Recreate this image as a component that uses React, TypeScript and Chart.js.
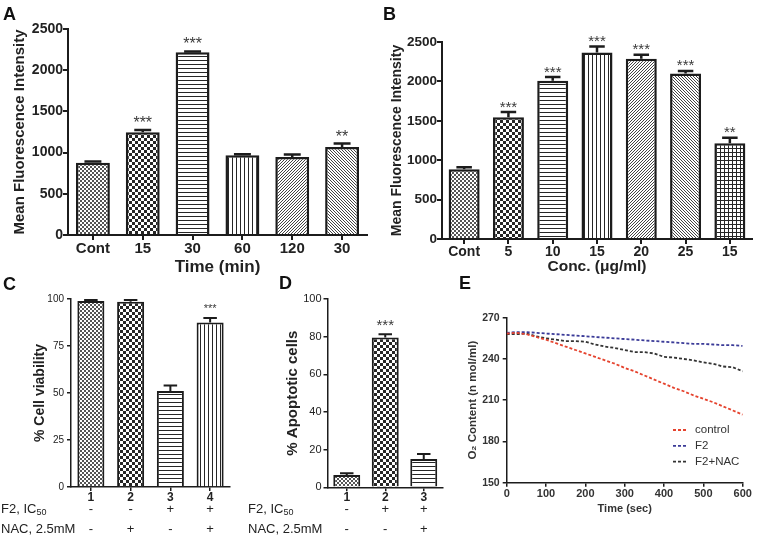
import React, { useEffect, useRef } from 'react';
import { Chart, registerables } from 'chart.js';

Chart.register(...registerables);

const FONT = "'Liberation Sans', Arial, Helvetica, sans-serif";
const INK = '#1c1c1c';

// ---------- Panel A: time course ----------
const timeLabels = ['Cont', '15', '30', '60', '120', '30'];
const timeMFI = [877, 1246, 2217, 967, 946, 1068];
const timeErr = [15, 28, 10, 12, 30, 42];
const timeStars = ['', '***', '***', '', '', '**'];

// ---------- Panel B: concentration ----------
const concLabels = ['Cont', '5', '10', '15', '20', '25', '15'];
const concMFI = [886, 1546, 2008, 2367, 2287, 2100, 1216];
const concErr = [25, 65, 47, 75, 51, 32, 70];
const concStars = ['', '***', '***', '***', '***', '***', '**'];

// ---------- Panel C: cell viability ----------
const viabLabels = ['1', '2', '3', '4'];
const viabValues = [99, 98.5, 51, 87.5];
const viabErr = [0.5, 1, 3, 2.4];
const viabStars = ['', '', '', '***'];
const viabF2 = ['-', '-', '+', '+'];
const viabNAC = ['-', '+', '-', '+'];

// ---------- Panel D: apoptotic cells ----------
const apopLabels = ['1', '2', '3'];
const apopValues = [6.5, 79.5, 15];
const apopErr = [1, 1.8, 2.7];
const apopStars = ['', '***', ''];
const apopF2 = ['-', '+', '+'];
const apopNAC = ['-', '-', '+'];

const rowF2Text = 'F2, IC';
const rowF2Sub = '50';
const rowNACText = 'NAC, 2.5mM';

// ---------- Panel E: O2 content ----------
const o2Time = [0, 25, 50, 75, 100, 125, 150, 175, 200, 225, 250, 275, 300, 325, 350, 375, 400, 425, 450, 475, 500, 525, 550, 575, 600];
const o2Control = [258.5, 259, 258, 256, 254, 251.5, 249, 246.5, 244, 241.5, 239, 236.5, 233.5, 231, 228, 225, 222, 219, 216.5, 213.5, 211, 208.5, 205.5, 202.5, 199.5];
const o2F2 = [259, 259.5, 259.5, 259, 258.5, 258, 257.5, 257, 256.5, 256, 255.5, 255, 254.5, 254, 253.5, 253, 252.5, 252, 251.5, 251, 251, 250.5, 250, 250, 249.5];
const o2F2NAC = [258, 258, 258.5, 256.5, 255, 254, 253, 253, 252.5, 250.5, 249, 248, 246.5, 245, 245, 244, 241.5, 241, 240, 239, 237.5, 236.5, 234.5, 234, 231];
const o2Names = ['control', 'F2', 'F2+NAC'];

// ---------- styles ----------
function makePattern(kind: string): CanvasPattern | string {
  const c = document.createElement('canvas');
  const n = kind === 'check' ? 6 : kind === 'diagUp' || kind === 'diagDown' ? 3 : 4;
  c.width = n;
  c.height = n;
  const g = c.getContext('2d')!;
  g.fillStyle = '#fff';
  g.fillRect(0, 0, n, n);
  g.fillStyle = '#262626';
  switch (kind) {
    case 'fine':
      g.fillStyle = '#555';
      g.fillRect(0, 0, 2, 2);
      g.fillRect(2, 2, 2, 2);
      break;
    case 'check':
      g.fillRect(0, 0, 3, 3);
      g.fillRect(3, 3, 3, 3);
      break;
    case 'hline':
      g.fillRect(0, 0, n, 1);
      break;
    case 'vline':
      g.fillRect(0, 0, 1, n);
      break;
    case 'diagUp':
      g.fillStyle = '#444';
      for (let i = 0; i < n; i++) g.fillRect(i, n - 1 - i, 1, 1);
      break;
    case 'diagDown':
      g.fillStyle = '#444';
      for (let i = 0; i < n; i++) g.fillRect(i, i, 1, 1);
      break;
    case 'grid':
      g.fillRect(0, 0, n, 1);
      g.fillRect(0, 0, 1, n);
      break;
  }
  return g.createPattern(c, 'repeat') || '#888';
}

const plainTick = (v: any) => String(v);

const errorBarsPlugin = {
  id: 'errorBars',
  afterDatasetsDraw(chart: any, _a: any, opts: any) {
    const ds = chart.data.datasets[0];
    if (!ds || !ds.errors) return;
    const meta = chart.getDatasetMeta(0);
    const yScale = chart.scales.y;
    const ctx: CanvasRenderingContext2D = chart.ctx;
    ctx.save();
    meta.data.forEach((el: any, i: number) => {
      const v = ds.data[i];
      const e = ds.errors[i];
      const yTop = yScale.getPixelForValue(v + e);
      const half = (el.width * opts.cap) / 2;
      ctx.strokeStyle = INK;
      ctx.lineWidth = opts.lineWidth;
      ctx.beginPath();
      ctx.moveTo(el.x, el.y);
      ctx.lineTo(el.x, yTop);
      ctx.moveTo(el.x - half, yTop);
      ctx.lineTo(el.x + half, yTop);
      ctx.stroke();
      const s = ds.stars && ds.stars[i];
      if (s) {
        ctx.font = opts.starFont;
        ctx.fillStyle = '#3a3a3a';
        ctx.textAlign = 'center';
        ctx.textBaseline = 'alphabetic';
        ctx.fillText(s, el.x, yTop - opts.starGap);
      }
    });
    ctx.restore();
  },
};

const rowsPlugin = {
  id: 'treatRows',
  afterDraw(chart: any, _a: any, opts: any) {
    if (!opts || !opts.rows) return;
    const ctx: CanvasRenderingContext2D = chart.ctx;
    const xs = chart.scales.x;
    ctx.save();
    ctx.fillStyle = '#222';
    ctx.textBaseline = 'middle';
    opts.rows.forEach((row: any) => {
      ctx.font = `${opts.size}px ${FONT}`;
      ctx.textAlign = 'left';
      ctx.fillText(row.text, opts.labelX, row.y);
      if (row.sub) {
        const w = ctx.measureText(row.text).width;
        ctx.font = `${Math.round(opts.size * 0.72)}px ${FONT}`;
        ctx.fillText(row.sub, opts.labelX + w, row.y + opts.size * 0.3);
      }
      ctx.font = `${opts.symSize}px ${FONT}`;
      ctx.textAlign = 'center';
      row.values.forEach((s: string, i: number) => {
        ctx.fillText(s, xs.getPixelForValue(i), row.y);
      });
    });
    ctx.restore();
  },
};

const o2LegendPlugin = {
  id: 'o2Legend',
  afterDraw(chart: any, _a: any, opts: any) {
    const ctx: CanvasRenderingContext2D = chart.ctx;
    ctx.save();
    chart.data.datasets.forEach((ds: any, i: number) => {
      const y = opts.y0 + i * opts.dy;
      ctx.strokeStyle = ds.borderColor;
      ctx.lineWidth = ds.borderWidth;
      ctx.setLineDash(ds.borderDash);
      ctx.beginPath();
      ctx.moveTo(opts.x0, y);
      ctx.lineTo(opts.x0 + opts.len, y);
      ctx.stroke();
      ctx.setLineDash([]);
      ctx.fillStyle = '#333';
      ctx.font = `${opts.size}px ${FONT}`;
      ctx.textBaseline = 'middle';
      ctx.textAlign = 'left';
      ctx.fillText(ds.label, opts.x0 + opts.len + opts.gap, y);
    });
    ctx.restore();
  },
};

type BarSpec = {
  labels: string[];
  values: number[];
  errors: number[];
  stars: string[];
  patterns: string[];
  yMax: number;
  yStep: number;
  yTitle: string;
  xTitle?: string;
  yWidth: number;
  xHeight: number;
  padTop: number;
  padRight: number;
  barPct: number;
  borderW: number;
  axisW: number;
  tickLen: number;
  yTick: { size: number; weight: string; pad: number };
  xTick: { size: number; weight: string; pad: number };
  yTitleFont: { size: number; pad: number };
  xTitleFont?: { size: number; pad: number };
  star: { size: number; gap: number };
  capLW: number;
  rows?: any;
};

function barConfig(s: BarSpec): any {
  return {
    type: 'bar',
    data: {
      labels: s.labels,
      datasets: [
        {
          data: s.values,
          errors: s.errors,
          stars: s.stars,
          backgroundColor: s.patterns.map(makePattern),
          borderColor: INK,
          borderWidth: s.borderW,
          barPercentage: s.barPct,
          categoryPercentage: 1,
        },
      ],
    },
    options: {
      responsive: false,
      animation: false,
      layout: { padding: { top: s.padTop, right: s.padRight, left: 0, bottom: 0 } },
      plugins: {
        legend: { display: false },
        tooltip: { enabled: false },
        errorBars: {
          cap: 0.5,
          lineWidth: s.capLW,
          starFont: `${s.star.size}px ${FONT}`,
          starGap: s.star.gap,
        },
        treatRows: s.rows || {},
      },
      scales: {
        x: {
          z: 1,
          afterFit: (sc: any) => {
            sc.height = s.xHeight;
          },
          border: { color: INK, width: s.axisW },
          grid: {
            display: true,
            drawOnChartArea: false,
            drawTicks: true,
            offset: false,
            tickLength: s.tickLen,
            tickColor: INK,
            lineWidth: s.axisW,
          },
          ticks: {
            color: '#222',
            padding: s.xTick.pad,
            font: { family: FONT, size: s.xTick.size, weight: s.xTick.weight },
            maxRotation: 0,
            autoSkip: false,
          },
          title: s.xTitle
            ? {
                display: true,
                text: s.xTitle,
                color: '#222',
                font: { family: FONT, size: s.xTitleFont!.size, weight: 'bold' },
                padding: { top: 0, bottom: s.xTitleFont!.pad },
              }
            : { display: false },
        },
        y: {
          min: 0,
          max: s.yMax,
          afterFit: (sc: any) => {
            sc.width = s.yWidth;
          },
          border: { color: INK, width: s.axisW },
          grid: {
            display: true,
            drawOnChartArea: false,
            drawTicks: true,
            tickLength: s.tickLen,
            tickColor: INK,
            lineWidth: s.axisW,
          },
          ticks: {
            stepSize: s.yStep,
            callback: plainTick,
            color: '#222',
            padding: s.yTick.pad,
            font: { family: FONT, size: s.yTick.size, weight: s.yTick.weight },
          },
          title: {
            display: true,
            text: s.yTitle,
            color: '#222',
            font: { family: FONT, size: s.yTitleFont.size, weight: 'bold' },
            padding: { top: s.yTitleFont.pad, bottom: 0 },
          },
        },
      },
    },
    plugins: [errorBarsPlugin, rowsPlugin],
  };
}

function configA() {
  return barConfig({
    labels: timeLabels,
    values: timeMFI,
    errors: timeErr,
    stars: timeStars,
    patterns: ['fine', 'check', 'hline', 'vline', 'diagUp', 'diagDown'],
    yMax: 2500,
    yStep: 500,
    yTitle: 'Mean Fluorescence Intensity',
    xTitle: 'Time (min)',
    yWidth: 68,
    xHeight: 45,
    padTop: 29,
    padRight: 13,
    barPct: 0.68,
    borderW: 2.5,
    axisW: 2,
    tickLen: 5,
    yTick: { size: 14, weight: 'bold', pad: 0 },
    xTick: { size: 15, weight: 'bold', pad: 0 },
    yTitleFont: { size: 15, pad: 10.5 },
    xTitleFont: { size: 17, pad: 2 },
    star: { size: 16, gap: 2 },
    capLW: 2.5,
  });
}

function configB() {
  return barConfig({
    labels: concLabels,
    values: concMFI,
    errors: concErr,
    stars: concStars,
    patterns: ['fine', 'check', 'hline', 'vline', 'diagUp', 'diagDown', 'grid'],
    yMax: 2500,
    yStep: 500,
    yTitle: 'Mean Fluorescence Intensity',
    xTitle: 'Conc. (\u03bcg/ml)',
    yWidth: 62,
    xHeight: 41,
    padTop: 42,
    padRight: 12,
    barPct: 0.7,
    borderW: 2.5,
    axisW: 2,
    tickLen: 5,
    yTick: { size: 13.5, weight: 'bold', pad: 0 },
    xTick: { size: 14, weight: 'bold', pad: 0 },
    yTitleFont: { size: 14, pad: 9 },
    xTitleFont: { size: 15.5, pad: 4 },
    star: { size: 15, gap: 0.5 },
    capLW: 2.5,
  });
}

function configC() {
  return barConfig({
    labels: viabLabels,
    values: viabValues,
    errors: viabErr,
    stars: viabStars,
    patterns: ['fine', 'check', 'hline', 'vline'],
    yMax: 100,
    yStep: 25,
    yTitle: '% Cell viability',
    yWidth: 71,
    xHeight: 67,
    padTop: 29,
    padRight: 15,
    barPct: 0.68,
    borderW: 2,
    axisW: 1.5,
    tickLen: 4,
    yTick: { size: 10, weight: 'normal', pad: 3 },
    xTick: { size: 12, weight: 'bold', pad: -1 },
    yTitleFont: { size: 14, pad: 31.5 },
    star: { size: 11, gap: 5.5 },
    capLW: 2,
    rows: {
      labelX: 1,
      size: 13,
      symSize: 13,
      rows: [
        { text: rowF2Text, sub: rowF2Sub, values: viabF2, y: 239 },
        { text: rowNACText, values: viabNAC, y: 259 },
      ],
    },
  });
}

function configD() {
  return barConfig({
    labels: apopLabels,
    values: apopValues,
    errors: apopErr,
    stars: apopStars,
    patterns: ['fine', 'check', 'hline'],
    yMax: 100,
    yStep: 20,
    yTitle: '% Apoptotic cells',
    yWidth: 82.5,
    xHeight: 66.7,
    padTop: 29,
    padRight: 17,
    barPct: 0.7,
    borderW: 2,
    axisW: 1.5,
    tickLen: 4,
    yTick: { size: 11, weight: 'normal', pad: 2 },
    xTick: { size: 12, weight: 'bold', pad: -1 },
    yTitleFont: { size: 15, pad: 39 },
    star: { size: 15, gap: 4 },
    capLW: 2,
    rows: {
      labelX: 3,
      size: 13,
      symSize: 13,
      rows: [
        { text: rowF2Text, sub: rowF2Sub, values: apopF2, y: 239 },
        { text: rowNACText, values: apopNAC, y: 259 },
      ],
    },
  });
}

function configE() {
  const colors = ['#e5432e', '#3b3b98', '#333333'];
  const series = [o2Control, o2F2, o2F2NAC];
  return {
    type: 'line',
    data: {
      datasets: series.map((vals, k) => ({
        label: o2Names[k],
        data: o2Time.map((t, i) => ({ x: t, y: vals[i] })),
        borderColor: colors[k],
        borderWidth: 1.8,
        borderDash: [3, 2],
        pointRadius: 0,
        tension: 0,
        fill: false,
      })),
    },
    options: {
      responsive: false,
      animation: false,
      layout: { padding: { top: 47.7, right: 21.3, left: 0, bottom: 0 } },
      plugins: {
        legend: { display: false },
        tooltip: { enabled: false },
        o2Legend: { x0: 213, y0: 160, dy: 15.8, len: 15, gap: 7, size: 11.5 },
      },
      scales: {
        x: {
          type: 'linear',
          min: 0,
          max: 600,
          afterFit: (sc: any) => {
            sc.height = 71.3;
          },
          border: { color: INK, width: 1.5 },
          grid: { display: true, drawOnChartArea: false, drawTicks: true, tickLength: 4, tickColor: INK, lineWidth: 1.5 },
          ticks: { stepSize: 100, callback: plainTick, color: '#333', padding: 1, font: { family: FONT, size: 11, weight: 'bold' } },
          title: {
            display: true,
            text: 'Time (sec)',
            color: '#333',
            font: { family: FONT, size: 11, weight: 'bold' },
            padding: { top: 0, bottom: 38 },
          },
        },
        y: {
          min: 150,
          max: 270,
          afterFit: (sc: any) => {
            sc.width = 46.7;
          },
          border: { color: INK, width: 1.5 },
          grid: { display: true, drawOnChartArea: false, drawTicks: true, tickLength: 4, tickColor: INK, lineWidth: 1.5 },
          ticks: { stepSize: 30, callback: plainTick, color: '#333', padding: 3, font: { family: FONT, size: 10.5, weight: 'bold' } },
          title: {
            display: true,
            text: 'O\u2082 Content (n mol/ml)',
            color: '#333',
            font: { family: FONT, size: 11.5, weight: 'bold' },
            padding: { top: 6, bottom: 0 },
          },
        },
      },
    },
    plugins: [o2LegendPlugin],
  };
}

function ChartBox(props: { left: number; top: number; width: number; height: number; make: () => any }) {
  const ref = useRef<HTMLCanvasElement>(null);
  useEffect(() => {
    const chart = new Chart(ref.current!, props.make());
    return () => chart.destroy();
  }, []);
  const { left, top, width, height } = props;
  return (
    <div style={{ position: 'absolute', left, top, width, height }}>
      <canvas ref={ref} width={width} height={height} style={{ width, height, display: 'block' }} />
    </div>
  );
}

function Letter(props: { x: number; y: number; t: string }) {
  return (
    <div
      style={{
        position: 'absolute',
        left: props.x,
        top: props.y,
        fontFamily: FONT,
        fontWeight: 900,
        fontSize: 18,
        lineHeight: '18px',
        color: '#111',
      }}
    >
      {props.t}
    </div>
  );
}

export default function App() {
  return (
    <div style={{ position: 'absolute', left: 0, top: 0, width: 764, height: 554, background: '#fff', overflow: 'hidden' }}>
      <ChartBox left={0} top={0} width={380} height={280} make={configA} />
      <ChartBox left={380} top={0} width={384} height={280} make={configB} />
      <ChartBox left={0} top={270} width={245} height={284} make={configC} />
      <ChartBox left={245} top={270} width={215} height={284} make={configD} />
      <ChartBox left={460} top={270} width={304} height={284} make={configE} />
      <Letter x={3} y={5} t="A" />
      <Letter x={383} y={5} t="B" />
      <Letter x={3} y={275} t="C" />
      <Letter x={279} y={274} t="D" />
      <Letter x={459} y={274} t="E" />
    </div>
  );
}
